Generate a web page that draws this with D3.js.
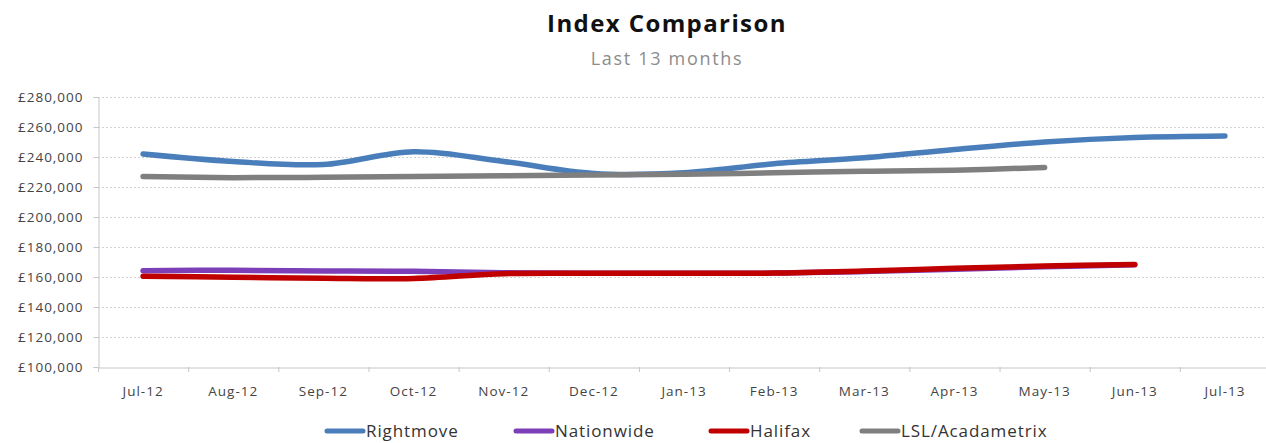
<!DOCTYPE html>
<html>
<head>
<meta charset="utf-8">
<script src="https://cdn.jsdelivr.net/npm/d3@7"></script>
<style>
  body { margin: 0; background: #fff; }
  svg { display: block; font-family: "Open Sans", sans-serif; }
</style>
</head>
<body>
<svg id="chart" width="1266" height="443"></svg>
<script>
var months = ['Jul-12', 'Aug-12', 'Sep-12', 'Oct-12', 'Nov-12', 'Dec-12', 'Jan-13',
              'Feb-13', 'Mar-13', 'Apr-13', 'May-13', 'Jun-13', 'Jul-13'];

var seriesNames = ['Rightmove', 'Nationwide', 'Halifax', 'LSL/Acadametrix'];
var seriesColors = ['#4a7ebb', '#7d3fb8', '#c00000', '#7f7f7f'];

// null = no value for that month
var rightmove = [242000, 237000, 235000, 243500, 237000, 229000, 229500, 235500, 239500, 245000, 250000, 253000, 254000];
var nationwide = [164200, 164500, 164000, 163800, 162800, 162500, 162500, 162600, 163600, 165200, 166800, 168200, null];
var halifax = [160500, 159800, 159100, 159000, 162200, 162500, 162500, 162600, 164000, 165800, 167300, 168400, null];
var lsl = [227000, 226200, 226500, 227000, 227500, 228000, 228500, 229500, 230500, 231200, 233000, null, null];

var yTicks = [100000, 120000, 140000, 160000, 180000, 200000, 220000, 240000, 260000, 280000];

var allSeries = [rightmove, nationwide, halifax, lsl];

var svg = d3.select('#chart');

var x = d3.scaleBand().domain(months).range([98, 1270]);
var y = d3.scaleLinear().domain([100000, 280000]).range([367, 97]);

// title (the original is a bit stretched sideways, hence the letter spacing)
svg.append('text')
    .attr('x', 667).attr('y', 32)
    .attr('text-anchor', 'middle')
    .style('font-size', '24px').style('font-weight', 'bold').style('fill', '#111')
    .style('letter-spacing', '1.4px')
    .text('Index Comparison');

svg.append('text')
    .attr('x', 667).attr('y', 65)
    .attr('text-anchor', 'middle')
    .style('font-size', '18px').style('fill', '#8c8c8c')
    .style('letter-spacing', '1.7px')
    .text('Last 13 months');

// gridlines
svg.append('g').selectAll('line').data(yTicks.slice(1)).enter().append('line')
    .attr('x1', 98).attr('x2', 1266)
    .attr('y1', function(d) { return y(d) + 0.5; })
    .attr('y2', function(d) { return y(d) + 0.5; })
    .attr('stroke', '#d2d2d2')
    .attr('stroke-dasharray', '2,2');

// y axis
var yAxis = d3.axisLeft(y)
    .tickValues(yTicks)
    .tickSize(5)
    .tickFormat(function(d) { return '\u00a3' + d3.format(',')(d); });

var gy = svg.append('g').attr('transform', 'translate(98.5,0)').call(yAxis);
gy.select('.domain').attr('stroke', '#c6c6c6');
gy.selectAll('.tick line').attr('stroke', '#c6c6c6');
gy.selectAll('.tick text')
    .attr('x', -15)
    .style('font-size', '13.5px').style('fill', '#444').style('letter-spacing', '1px')
    .style('font-family', '"Open Sans", sans-serif');

// x axis
var xAxis = d3.axisBottom(x).tickSize(0).tickPadding(19);
var gx = svg.append('g').attr('transform', 'translate(0,367.5)').call(xAxis);
gx.select('.domain').attr('stroke', '#c6c6c6');
gx.selectAll('.tick text')
    .style('font-size', '13.5px').style('fill', '#444').style('letter-spacing', '1px')
    .style('font-family', '"Open Sans", sans-serif');

// tick marks at category boundaries
svg.append('g').selectAll('line').data(months).enter().append('line')
    .attr('x1', function(d) { return x(d) + 0.5; })
    .attr('x2', function(d) { return x(d) + 0.5; })
    .attr('y1', 367).attr('y2', 372)
    .attr('stroke', '#c6c6c6');

// series lines
var line = d3.line()
    .defined(function(d) { return d != null; })
    .x(function(d, i) { return x(months[i]) + x.bandwidth() / 2; })
    .y(function(d) { return y(d); })
    .curve(d3.curveCatmullRom.alpha(0.5));

svg.append('g').selectAll('path').data(allSeries).enter().append('path')
    .attr('d', line)
    .attr('fill', 'none')
    .attr('stroke', function(d, i) { return seriesColors[i]; })
    .attr('stroke-width', 5.5)
    .attr('stroke-linecap', 'round')
    .attr('stroke-linejoin', 'round');

// legend
var legendX = [325, 514, 709, 860];
var legend = svg.append('g').selectAll('g').data(seriesNames).enter().append('g')
    .attr('transform', function(d, i) { return 'translate(' + legendX[i] + ',431)'; });

legend.append('line')
    .attr('x1', 2).attr('x2', 38)
    .attr('y1', 0).attr('y2', 0)
    .attr('stroke', function(d, i) { return seriesColors[i]; })
    .attr('stroke-width', 5)
    .attr('stroke-linecap', 'round');

legend.append('text')
    .attr('x', 41).attr('y', 6)
    .style('font-size', '17px').style('fill', '#333').style('letter-spacing', '0.9px')
    .text(function(d) { return d; });
</script>
</body>
</html>
